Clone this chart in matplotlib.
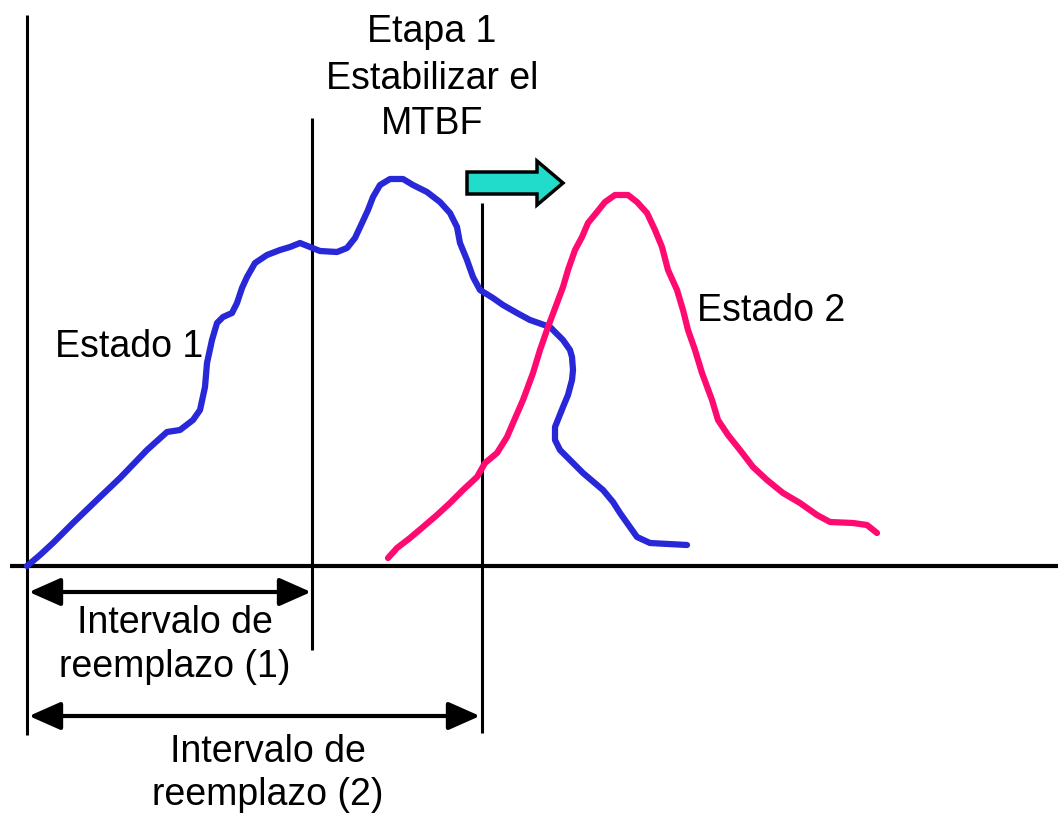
import matplotlib.pyplot as plt
from matplotlib.patches import FancyArrow

plt.rcParams['font.family'] = ['Liberation Sans', 'DejaVu Sans']

# ── Data (image pixel coords, y grows downward) ──────────────────────────────
estado1_x = [27, 40, 53, 73, 100, 120, 147, 167, 180, 193, 200, 205, 207, 212,
             217, 223, 232, 237, 242, 247, 255, 267, 280, 290, 300, 310, 320,
             337, 347, 355, 362, 368, 373, 380, 390, 403, 413, 427, 440, 450,
             457, 460, 467, 473, 480, 493, 503, 517, 530, 550, 563, 570, 572,
             573, 572, 568, 563, 555, 555, 560, 567, 583, 603, 613, 620, 637,
             650, 687]
estado1_y = [566, 555, 543, 523, 497, 478, 450, 432, 430, 420, 410, 387, 363, 340,
             323, 317, 313, 303, 288, 277, 263, 255, 250, 247, 243, 247, 251,
             252, 248, 238, 223, 210, 197, 185, 179, 179, 185, 192, 202, 213,
             227, 243, 260, 277, 290, 298, 305, 313, 320, 327, 340, 350, 357,
             370, 380, 395, 407, 427, 440, 450, 457, 473, 490, 502, 513, 537,
             543, 545]

estado2_x = [388, 397, 410, 423, 437, 450, 463, 477, 485, 497, 507, 513, 523,
             533, 540, 548, 557, 563, 568, 575, 582, 588, 597, 605, 615, 628,
             637, 647, 655, 662, 668, 677, 683, 688, 695, 702, 712, 718, 728,
             740, 753, 767, 783, 800, 817, 830, 853, 867, 877]
estado2_y = [558, 548, 538, 527, 515, 503, 490, 477, 463, 453, 437, 423, 400,
             373, 350, 327, 303, 287, 270, 250, 237, 223, 212, 202, 195, 195,
             202, 213, 230, 247, 270, 290, 310, 330, 350, 373, 400, 420, 435,
             450, 467, 480, 493, 503, 515, 522, 523, 525, 533]

curve_labels = ['Estado 1', 'Estado 2']
curve_label_pos = [(55, 357), (697, 321)]

etapa_lines = ['Etapa 1', 'Estabilizar el', 'MTBF']
etapa_x = 432
etapa_baselines = [42, 89, 134]

interval_labels = [['Intervalo de', 'reemplazo (1)'], ['Intervalo de', 'reemplazo (2)']]
interval_x = [175, 268]
interval_baselines = [[633, 677], [762, 805]]

# guide lines: x, y_top, y_bottom
guides_x = [27, 312, 482]
guides_top = [15, 118, 203]
guides_bottom = [735, 650, 733]
axis_y = 566

# dimension arrows: x_start, x_end, y
dims_x0 = [29, 29]
dims_x1 = [311, 480]
dims_y = [592, 716]

BLUE = '#2828d8'
RED = '#ff0a70'

fig = plt.figure(figsize=(10.58, 8.17), dpi=100)
ax = fig.add_axes([0, 0, 1, 1])
ax.set_xlim(0, 1058)
ax.set_ylim(817, 0)
ax.axis('off')

# axes & guides
ax.plot([10, 1058], [axis_y, axis_y], color='k', lw=3, solid_capstyle='butt')
for gx, gt, gb in zip(guides_x, guides_top, guides_bottom):
    ax.plot([gx, gx], [gt, gb], color='k', lw=2.2, solid_capstyle='butt')

# curves
ax.plot(estado1_x, estado1_y, color=BLUE, lw=4.5, solid_capstyle='round', solid_joinstyle='round')
ax.plot(estado2_x, estado2_y, color=RED, lw=4.5, solid_capstyle='round', solid_joinstyle='round')

# dimension arrows
for x0, x1, y in zip(dims_x0, dims_x1, dims_y):
    ax.annotate('', xy=(x1, y), xytext=(x0, y),
                arrowprops=dict(arrowstyle='<|-|>,head_length=0.97,head_width=0.43',
                                color='k', lw=3, shrinkA=0, shrinkB=0,
                                mutation_scale=20))

# block arrow (shift towards Estado 2)
ax.add_patch(FancyArrow(467, 183, 96, 0, width=22, head_width=44, head_length=26,
                        length_includes_head=True, facecolor='#22dccb',
                        edgecolor='k', lw=2.5, joinstyle='miter'))

# texts
FS = 27
for lab, (tx, ty) in zip(curve_labels, curve_label_pos):
    ax.text(tx, ty, lab, fontsize=FS, ha='left', va='baseline')
for line, by in zip(etapa_lines, etapa_baselines):
    ax.text(etapa_x, by, line, fontsize=FS, ha='center', va='baseline')
for lines, cx, bys in zip(interval_labels, interval_x, interval_baselines):
    for line, by in zip(lines, bys):
        ax.text(cx, by, line, fontsize=FS, ha='center', va='baseline')

fig.savefig('out.png', dpi=100, facecolor='white')
